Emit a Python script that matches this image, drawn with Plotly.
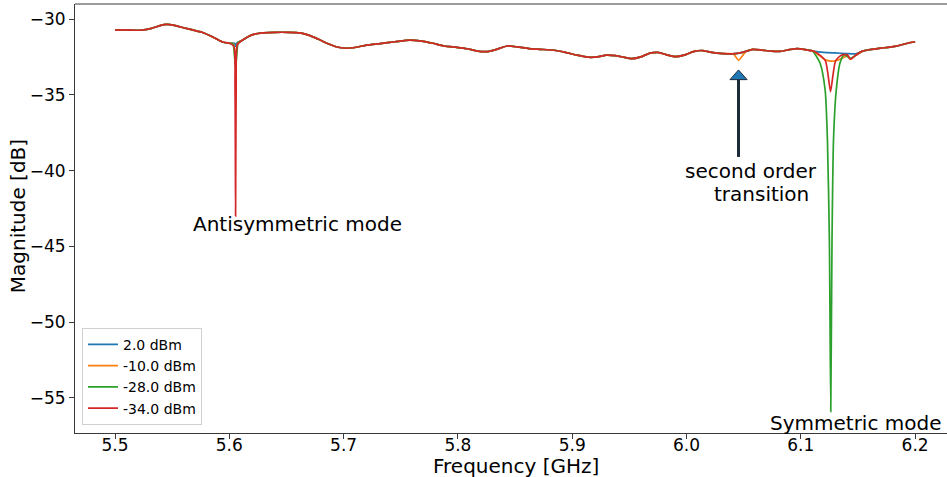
import plotly.graph_objects as go

# Shared background response (GHz, dB) seen by every drive power
base_freq = [5.500, 5.510, 5.522, 5.532, 5.540, 5.545, 5.552, 5.560, 5.568, 5.576,
             5.586, 5.594, 5.600, 5.604, 5.607, 5.611, 5.616, 5.622, 5.630, 5.640,
             5.652, 5.662, 5.670, 5.678, 5.686, 5.694, 5.702, 5.710, 5.720, 5.732,
             5.745, 5.758, 5.768, 5.778, 5.788, 5.799, 5.808, 5.816, 5.826, 5.834,
             5.843, 5.852, 5.862, 5.872, 5.884, 5.894, 5.904, 5.914, 5.922, 5.930,
             5.938, 5.945, 5.952, 5.960, 5.968, 5.975, 5.982, 5.990, 5.998, 6.006,
             6.014, 6.022, 6.032, 6.040, 6.050, 6.058, 6.066, 6.074, 6.082, 6.090,
             6.097, 6.104, 6.111, 6.120, 6.130, 6.140, 6.148, 6.154, 6.162, 6.170,
             6.178, 6.186, 6.194, 6.200]
base_mag = [-30.73, -30.72, -30.74, -30.62, -30.42, -30.36, -30.42, -30.58, -30.72, -30.87,
            -31.20, -31.52, -31.60, -31.58, -31.55, -31.42, -31.18, -31.00, -30.92, -30.88,
            -30.88, -30.92, -31.08, -31.34, -31.62, -31.85, -31.93, -31.88, -31.72, -31.62,
            -31.50, -31.39, -31.46, -31.60, -31.78, -31.87, -31.96, -32.10, -32.15, -32.00,
            -31.78, -31.84, -31.95, -32.00, -32.06, -32.20, -32.38, -32.52, -32.50, -32.38,
            -32.42, -32.52, -32.62, -32.50, -32.25, -32.20, -32.35, -32.48, -32.38, -32.15,
            -32.08, -32.20, -32.28, -32.30, -32.18, -32.00, -32.05, -32.12, -32.13, -32.02,
            -31.95, -32.02, -32.12, -32.20, -32.24, -32.28, -32.30, -32.12, -32.00, -31.92,
            -31.86, -31.75, -31.58, -31.50]

# Resonance features per drive power: (window, freqs, magnitudes)
blue_dips = [
    ((5.603, 5.608), [5.6045, 5.6055, 5.6065], [-31.60, -31.80, -31.58]),
]
orange_dips = [
    ((5.603, 5.608), [5.6035, 5.6050, 5.6055, 5.6062, 5.6075], [-31.62, -32.30, -32.60, -32.20, -31.56]),
    ((6.040, 6.052), [6.0410, 6.0455, 6.0520], [-32.30, -32.72, -32.15]),
    ((6.110, 6.154), [6.1110, 6.1160, 6.1210, 6.1260, 6.1320, 6.1370, 6.1405, 6.1435, 6.1470, 6.1540],
     [-32.12, -32.40, -32.68, -32.78, -32.72, -32.55, -32.45, -32.65, -32.45, -32.12]),
]
green_dips = [
    ((5.603, 5.608), [5.6032, 5.6045, 5.6055, 5.6065, 5.6078], [-31.65, -32.40, -33.20, -32.40, -31.55]),
    ((6.110, 6.154), [6.1100, 6.1168, 6.1213, 6.1233, 6.1250, 6.1262, 6.1273, 6.1286, 6.1310,
                      6.1343, 6.1380, 6.1435, 6.1480, 6.1540],
     [-32.10, -32.90, -34.70, -38.00, -44.60, -55.90, -44.60, -38.00, -34.70,
      -32.90, -32.35, -32.60, -32.40, -32.12]),
]
red_dips = [
    ((5.603, 5.608), [5.6040, 5.6050, 5.6055, 5.6060, 5.6070], [-31.80, -34.50, -43.00, -34.50, -31.70]),
    ((6.110, 6.154), [6.1110, 6.1170, 6.1215, 6.1235, 6.1260, 6.1285, 6.1305, 6.1350, 6.1405,
                      6.1435, 6.1470, 6.1540],
     [-32.12, -32.40, -32.75, -33.50, -34.80, -33.50, -32.75, -32.40, -32.35,
      -32.65, -32.45, -32.12]),
]

series_names = ["2.0 dBm", "-10.0 dBm", "-28.0 dBm", "-34.0 dBm"]
series_colors = ["#1f77b4", "#ff7f0e", "#2ca02c", "#d62728"]
series_dips = [blue_dips, orange_dips, green_dips, red_dips]

x_ticks = [5.5, 5.6, 5.7, 5.8, 5.9, 6.0, 6.1, 6.2]
y_ticks = [-30, -35, -40, -45, -50, -55]


def merge_trace(dips):
    pts = list(zip(base_freq, base_mag))
    for (lo, hi), fx, fy in dips:
        pts = [p for p in pts if not (lo <= p[0] <= hi)]
        pts += list(zip(fx, fy))
    pts.sort()
    return [p[0] for p in pts], [p[1] for p in pts]


FONT = "DejaVu Sans"
AXC = "#3a3a3a"

fig = go.Figure()
for name, color, dips in zip(series_names, series_colors, series_dips):
    fx, fy = merge_trace(dips)
    fig.add_trace(go.Scatter(x=fx, y=fy, mode="lines", name=name,
                             line=dict(color=color, width=1.7, shape="spline", smoothing=0.6)))

# Arrow pointing at the second order transition
arrow_x = 6.0455
arrow_tip, arrow_base, arrow_tail = -33.36, -34.0, -39.1
half_w = 0.0075
fig.add_shape(type="line", xref="x", yref="y", x0=arrow_x, x1=arrow_x,
              y0=arrow_tail, y1=arrow_base, line=dict(color="#1c2b3a", width=3))
fig.add_shape(type="path", xref="x", yref="y",
              path=f"M {arrow_x - half_w},{arrow_base} L {arrow_x + half_w},{arrow_base} L {arrow_x},{arrow_tip} Z",
              fillcolor="#1f77b4", line=dict(color="#1c2b3a", width=1))

# Top frame line (no right spine)
fig.add_shape(type="line", xref="paper", yref="paper", x0=0, x1=1, y0=1, y1=1,
              line=dict(color=AXC, width=1))

text_font = dict(family=FONT, size=20, color="black")
fig.add_annotation(x=5.660, y=-43.55, text="Antisymmetric mode", showarrow=False, font=text_font)
fig.add_annotation(x=6.1485, y=-56.65, text="Symmetric mode", showarrow=False, font=text_font)
fig.add_annotation(x=6.0565, y=-40.03, text="second order", showarrow=False, font=text_font)
fig.add_annotation(x=6.066, y=-41.54, text="transition", showarrow=False, font=text_font)

# Axis titles placed in the margins
fig.add_annotation(xref="paper", yref="paper", x=0.5057, y=-0.0775, yanchor="middle",
                   text="Frequency [GHz]", showarrow=False, font=text_font, borderpad=0)
fig.add_annotation(xref="paper", yref="paper", x=-0.0655, y=0.505, xanchor="center",
                   text="Magnitude [dB]", textangle=-90, showarrow=False, font=text_font)

fig.update_layout(
    width=947, height=477,
    margin=dict(l=75, r=0, t=4, b=44),
    paper_bgcolor="white", plot_bgcolor="white",
    font=dict(family=FONT, color="black"),
    showlegend=True,
    legend=dict(x=0.008, y=0.019, xanchor="left", yanchor="bottom",
                bgcolor="rgba(255,255,255,0.8)", bordercolor="#d0d0d0", borderwidth=1,
                font=dict(family=FONT, size=14), tracegroupgap=0),
    xaxis=dict(range=[5.465, 6.2279], tickvals=x_ticks, ticktext=[f"{v:.1f}" for v in x_ticks],
               showgrid=False, zeroline=False, showline=True, linecolor=AXC, linewidth=1,
               ticks="outside", ticklen=5, tickcolor=AXC, tickfont=dict(family=FONT, size=17),
               ticklabelstandoff=-8, automargin=False),
    yaxis=dict(range=[-57.31, -29.01], tickvals=y_ticks,
               showgrid=False, zeroline=False, showline=True, linecolor=AXC, linewidth=1,
               ticks="outside", ticklen=5, tickcolor=AXC, tickfont=dict(family=FONT, size=17),
               automargin=False),
)

fig.write_html("out.html")
